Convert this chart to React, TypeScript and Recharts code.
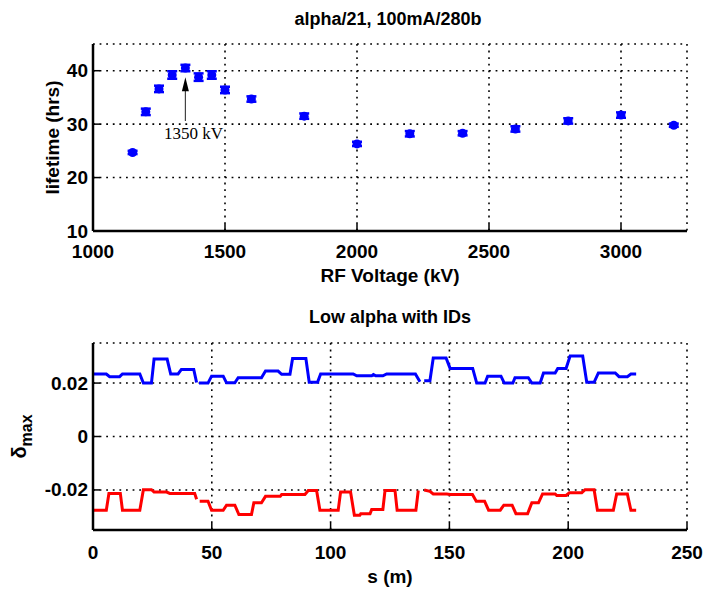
import React from 'react';
import {
  ScatterChart, Scatter, XAxis, YAxis, CartesianGrid, ErrorBar,
  ReferenceLine, ReferenceDot, LineChart, Line, Label,
} from 'recharts';

// ---------- data: top panel ----------
const voltages = [1150, 1200, 1250, 1300, 1350, 1400, 1450, 1500, 1600, 1800, 2000, 2200, 2400, 2600, 2800, 3000, 3200];
const lifetimes = [24.7, 32.3, 36.6, 39.2, 40.5, 38.8, 39.2, 36.4, 34.7, 31.5, 26.3, 28.2, 28.3, 29.1, 30.6, 31.7, 29.8];
const lifetimeErr = [0.3, 0.6, 0.6, 0.7, 0.6, 0.7, 0.7, 0.6, 0.5, 0.5, 0.4, 0.5, 0.4, 0.5, 0.5, 0.5, 0.3];
const voltageTicks = [1000, 1500, 2000, 2500, 3000];
const lifetimeTicks = [10, 20, 30, 40];
const annotationVoltage = 1350;
const annotationText = '1350 kV';
const topTitle = 'alpha/21, 100mA/280b';
const topXLabel = 'RF Voltage (kV)';
const topYLabel = 'lifetime (hrs)';

// ---------- data: bottom panel ----------
const blueS = [0, 5.6, 7, 11.2, 12.4, 19.7, 21.2, 24.6, 25.7, 31.2, 32.7, 35.8, 37.2, 42.4, 43.6, null, 44.6, 48.4, 49.9, 54.8, 56.2, 59.7, 61.1, 70.9, 72.6, 77.9, 79.4, 82.9, 84, 89.6, 91, 94.5, 95.8, 109.5, 111, 117.3, 118, 119, 122, 123.6, 135.7, 137.6, null, 139.4, 141.8, 143.2, 148.6, 150.3, 159.8, 161.5, 165, 166.1, 171.7, 173.1, 176.7, 177.6, 183.2, 184.7, 188.2, 189.6, 194.5, 195.6, 199.1, 200.8, 206.1, 207.8, 210.9, 212.7, 219.8, 221.4, 224.9, 226.4, 228.6];
const blueV = [0.0234, 0.0234, 0.0224, 0.0224, 0.0234, 0.0234, 0.0200, 0.0200, 0.0290, 0.0290, 0.0234, 0.0234, 0.0251, 0.0251, 0.0202, null, 0.0200, 0.0200, 0.0226, 0.0226, 0.0201, 0.0201, 0.0220, 0.0220, 0.0245, 0.0245, 0.0233, 0.0233, 0.0292, 0.0292, 0.0203, 0.0203, 0.0234, 0.0234, 0.0227, 0.0227, 0.0232, 0.0227, 0.0227, 0.0234, 0.0234, 0.0205, null, 0.0209, 0.0209, 0.0294, 0.0294, 0.0255, 0.0255, 0.0200, 0.0200, 0.0226, 0.0226, 0.0200, 0.0200, 0.0220, 0.0220, 0.0200, 0.0200, 0.0238, 0.0238, 0.0255, 0.0255, 0.0301, 0.0301, 0.0203, 0.0203, 0.0238, 0.0238, 0.0224, 0.0224, 0.0234, 0.0234];
const redS = [0, 5.6, 6.7, 11.5, 12.4, 19.7, 21.2, 24.6, 25.7, 31, 32.3, 42.8, 43.6, null, 44.9, 48.4, 49.9, 54.8, 56.2, 59.7, 61.4, 66.7, 67.7, 70.9, 72.6, 78.8, 79.4, 89.2, 90.6, 94.1, 95.5, 103.2, 104.2, 108.4, 110, 112.3, 112.7, 116.6, 117.3, 122, 122.9, 127.1, 128, 135.9, 136.9, null, 139.4, 141.8, 143.2, 148.9, 150.3, 159.7, 161.3, 164.8, 166.5, 171.4, 172.9, 176.4, 178, 182.9, 184.7, 187.5, 189.2, 194.5, 195.2, 199.1, 200.5, 205.7, 207.1, 210.9, 212.3, 219, 220.4, 224.9, 226.4, 228.6];
const redV = [-0.0276, -0.0276, -0.0213, -0.0213, -0.0276, -0.0276, -0.0199, -0.0199, -0.0208, -0.0208, -0.0213, -0.0213, -0.0235, null, -0.0242, -0.0242, -0.0276, -0.0276, -0.0257, -0.0257, -0.0292, -0.0292, -0.0248, -0.0248, -0.0224, -0.0224, -0.0217, -0.0217, -0.0202, -0.0202, -0.0276, -0.0276, -0.0208, -0.0208, -0.0295, -0.0295, -0.0289, -0.0289, -0.0273, -0.0273, -0.0202, -0.0202, -0.0276, -0.0276, -0.0202, null, -0.0200, -0.0205, -0.0215, -0.0215, -0.0217, -0.0217, -0.0242, -0.0242, -0.0276, -0.0276, -0.0257, -0.0257, -0.0289, -0.0289, -0.0248, -0.0248, -0.0215, -0.0215, -0.0221, -0.0221, -0.0211, -0.0211, -0.0199, -0.0199, -0.0276, -0.0276, -0.0215, -0.0215, -0.0276, -0.0276];
const sTicks = [0, 50, 100, 150, 200, 250];
const deltaTicks = [-0.02, 0, 0.02];
const bottomTitle = 'Low alpha with IDs';
const bottomXLabel = 's (m)';

const scatterData = voltages.map((v, i) => ({ x: v, y: lifetimes[i], err: lifetimeErr[i] }));
const buildLine = (s: (number | null)[], v: (number | null)[]) => {
  const out: { s: number; v: number | null }[] = [];
  let last = 0;
  s.forEach((x, i) => {
    if (x === null) out.push({ s: last + 0.5, v: null });
    else { out.push({ s: x, v: v[i] }); last = x; }
  });
  return out;
};
const blueData = buildLine(blueS, blueV);
const redData = buildLine(redS, redV);

// ---------- styles ----------
const FONT = '"Liberation Sans Narrow", "Liberation Sans", Arial, sans-serif';
const txt: any = { fontFamily: FONT, fontWeight: 700, fontSize: 19, fill: '#000' };
const TL = 7;
const axisLineStyle = { stroke: '#000', strokeWidth: 2.5 };
const BLUE = '#0000ff';
const RED = '#ff0000';
const GRID_DASH = '1.8 4.8';

const fmtNum = (v: number) => (Math.abs(v) < 1e-9 ? '0' : String(Number(v.toFixed(4))));

const LeftTick = (p: any) => (
  <g>
    <line x1={p.x + 5} y1={p.y} x2={p.x + 5 + TL} y2={p.y} stroke="#000" strokeWidth={1.5} />
    <text x={p.x} y={p.y} textAnchor="end" dominantBaseline="central" {...txt}>{fmtNum(p.payload.value)}</text>
  </g>
);
const RightTick = (p: any) => (
  <line x1={p.x} y1={p.y} x2={p.x - TL} y2={p.y} stroke="#000" strokeWidth={1.5} />
);
const TopTick = (p: any) => (
  <line x1={p.x} y1={p.y} x2={p.x} y2={p.y + TL} stroke="#000" strokeWidth={1.5} />
);
const makeBottomTick = (dy: number) => (p: any) => (
  <g>
    <line x1={p.x} y1={p.y} x2={p.x} y2={p.y - TL} stroke="#000" strokeWidth={1.5} />
    <text x={p.x} y={p.y + dy} textAnchor="middle" {...txt}>{fmtNum(p.payload.value)}</text>
  </g>
);

export default function App() {
  return (
    <div style={{ position: 'absolute', left: 0, top: 0, width: 704, height: 589, background: '#fff' }}>
      <div style={{ position: 'absolute', left: 0, top: 0 }}>
        <ScatterChart width={704} height={295} margin={{ top: 44, right: 17, bottom: 0, left: 0 }}>
          <CartesianGrid xAxisId="b" yAxisId="l" stroke="#000" strokeWidth={1.6} strokeDasharray={GRID_DASH} />
          <XAxis xAxisId="b" dataKey="x" type="number" domain={[1000, 3250]} ticks={voltageTicks} interval={0}
            allowDataOverflow height={64} tickSize={0} tickMargin={0} tickLine={false} axisLine={axisLineStyle}
            tick={makeBottomTick(27)}>
            <Label content={(lp: any) => {
              const vb = lp.viewBox;
              return <text x={vb.x + vb.width / 2} y={vb.y + 51} textAnchor="middle" {...txt}>{topXLabel}</text>;
            }} />
          </XAxis>
          <XAxis xAxisId="t" orientation="top" type="number" domain={[1000, 3250]} ticks={voltageTicks} interval={0}
            allowDataOverflow height={0} tickSize={0} tickMargin={0} tickLine={false} axisLine={axisLineStyle}
            tick={TopTick} />
          <YAxis yAxisId="l" dataKey="y" type="number" domain={[10, 45]} ticks={lifetimeTicks} interval={0}
            allowDataOverflow width={93} tickSize={0} tickMargin={5} tickLine={false} axisLine={axisLineStyle}
            tick={LeftTick}>
            <Label content={(lp: any) => {
              const vb = lp.viewBox;
              const cx = 52; const cy = vb.y + vb.height / 2;
              return (
                <g>
                  <text x={cx} y={cy} transform={`rotate(-90 ${cx} ${cy})`} textAnchor="middle" dominantBaseline="central" {...txt}>{topYLabel}</text>
                  <text x={388} y={vb.y - 19} textAnchor="middle" {...txt} fontSize={18}>{topTitle}</text>
                </g>
              );
            }} />
          </YAxis>
          <YAxis yAxisId="r" orientation="right" type="number" domain={[10, 45]} ticks={lifetimeTicks} interval={0}
            allowDataOverflow width={0} tickSize={0} tickMargin={0} tickLine={false} axisLine={axisLineStyle}
            tick={RightTick} />
          <Scatter xAxisId="b" yAxisId="l" data={scatterData} dataKey="y" fill={BLUE} isAnimationActive={false}
            shape={(sp: any) => <circle cx={sp.cx} cy={sp.cy} r={4.5} fill={BLUE} />}>
            <ErrorBar dataKey="err" direction="y" width={5} stroke={BLUE} strokeWidth={2.5} isAnimationActive={false} />
          </Scatter>
          <ReferenceLine xAxisId="b" yAxisId="l" segment={[{ x: annotationVoltage, y: 30.6 }, { x: annotationVoltage, y: 36.5 }]}
            stroke="#444" strokeWidth={1.2} />
          <ReferenceDot xAxisId="b" yAxisId="l" x={annotationVoltage} y={38.8}
            shape={(sp: any) => <polygon points={`${sp.cx},${sp.cy} ${sp.cx - 3.5},${sp.cy + 14} ${sp.cx + 3.5},${sp.cy + 14}`} fill="#000" />} />
          <ReferenceDot xAxisId="b" yAxisId="l" x={annotationVoltage} y={27.3}
            shape={(sp: any) => <text x={sp.cx + 8} y={sp.cy} textAnchor="middle" fontFamily='"Liberation Serif", "Times New Roman", serif' fontSize={17} fill="#000">{annotationText}</text>} />
        </ScatterChart>
      </div>
      <div style={{ position: 'absolute', left: 0, top: 295 }}>
        <LineChart width={704} height={294} margin={{ top: 48, right: 17, bottom: 0, left: 0 }}>
          <CartesianGrid xAxisId="b" yAxisId="l" stroke="#000" strokeWidth={1.6} strokeDasharray={GRID_DASH} />
          <XAxis xAxisId="b" dataKey="s" type="number" domain={[0, 250]} ticks={sTicks} interval={0}
            allowDataOverflow height={59} tickSize={0} tickMargin={0} tickLine={false} axisLine={axisLineStyle}
            tick={makeBottomTick(29)}>
            <Label content={(lp: any) => {
              const vb = lp.viewBox;
              return <text x={vb.x + vb.width / 2} y={vb.y + 53} textAnchor="middle" {...txt}>{bottomXLabel}</text>;
            }} />
          </XAxis>
          <XAxis xAxisId="t" orientation="top" type="number" domain={[0, 250]} ticks={sTicks} interval={0}
            allowDataOverflow height={0} tickSize={0} tickMargin={0} tickLine={false} axisLine={axisLineStyle}
            tick={TopTick} />
          <YAxis yAxisId="l" type="number" domain={[-0.035, 0.035]} ticks={deltaTicks} interval={0}
            allowDataOverflow width={93} tickSize={0} tickMargin={5} tickLine={false} axisLine={axisLineStyle}
            tick={LeftTick}>
            <Label content={(lp: any) => {
              const vb = lp.viewBox;
              const cx = 26; const cy = vb.y + vb.height / 2;
              return (
                <g>
                  <text x={cx} y={cy} transform={`rotate(-90 ${cx} ${cy})`} textAnchor="middle" {...txt} fontSize={20}>
                    <tspan>δ</tspan><tspan dy={6} fontSize={16}>max</tspan>
                  </text>
                  <text x={390} y={vb.y - 20} textAnchor="middle" {...txt} fontSize={18}>{bottomTitle}</text>
                </g>
              );
            }} />
          </YAxis>
          <YAxis yAxisId="r" orientation="right" type="number" domain={[-0.035, 0.035]} ticks={deltaTicks} interval={0}
            allowDataOverflow width={0} tickSize={0} tickMargin={0} tickLine={false} axisLine={axisLineStyle}
            tick={RightTick} />
          <Line xAxisId="b" yAxisId="l" data={blueData} dataKey="v" type="linear" stroke={BLUE} strokeWidth={3}
            dot={false} activeDot={false} connectNulls={false} isAnimationActive={false} />
          <Line xAxisId="b" yAxisId="l" data={redData} dataKey="v" type="linear" stroke={RED} strokeWidth={3}
            dot={false} activeDot={false} connectNulls={false} isAnimationActive={false} />
        </LineChart>
      </div>
    </div>
  );
}
